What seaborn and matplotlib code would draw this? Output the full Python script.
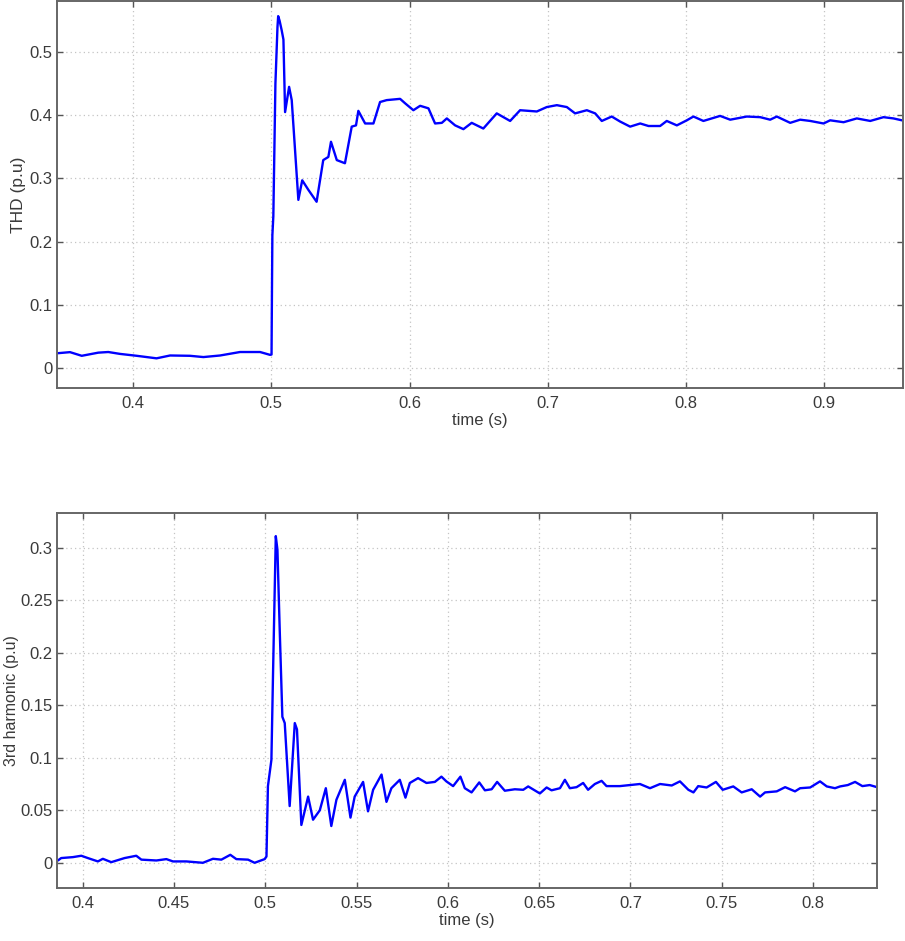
import matplotlib
matplotlib.use("Agg")
import matplotlib.pyplot as plt
import seaborn as sns
import pandas as pd

# ---------------- data ----------------
thd_time = [0.345, 0.3544, 0.3629, 0.3749, 0.3821, 0.3906, 0.4027, 0.417, 0.4268,
            0.4412, 0.4509, 0.463, 0.4774, 0.4919, 0.4991, 0.5002, 0.5005, 0.5008,
            0.5015, 0.503, 0.5045, 0.505, 0.506, 0.5075, 0.5088, 0.510, 0.5129,
            0.5148, 0.5196, 0.5224, 0.5268, 0.5328, 0.5376, 0.5413, 0.5432, 0.5474,
            0.5533, 0.5582, 0.5613, 0.563, 0.5679, 0.5739, 0.5787, 0.5835, 0.5932,
            0.5968, 0.6028, 0.6077, 0.6137, 0.6185, 0.6234, 0.627, 0.633, 0.639,
            0.645, 0.6534, 0.6631, 0.6728, 0.680, 0.6921, 0.6993, 0.7066, 0.7138,
            0.7198, 0.7283, 0.7343, 0.7391, 0.7463, 0.7524, 0.7596, 0.7669, 0.7729,
            0.7813, 0.7861, 0.7934, 0.8006, 0.8054, 0.8126, 0.8247, 0.832, 0.844,
            0.8537, 0.8609, 0.8657, 0.8754, 0.8826, 0.8899, 0.8995, 0.9043, 0.914,
            0.9236, 0.9333, 0.9429, 0.9501, 0.9562]
thd_value = [0.023, 0.0248, 0.019, 0.024, 0.025, 0.022, 0.019, 0.015, 0.0195,
             0.019, 0.017, 0.0195, 0.025, 0.025, 0.0205, 0.021, 0.12, 0.21,
             0.24, 0.45, 0.54, 0.557, 0.55, 0.535, 0.52, 0.405, 0.445,
             0.424, 0.266, 0.297, 0.282, 0.263, 0.329, 0.334, 0.358, 0.329,
             0.324, 0.382, 0.384, 0.407, 0.387, 0.387, 0.421, 0.424, 0.426,
             0.419, 0.408, 0.415, 0.411, 0.387, 0.388, 0.395, 0.384, 0.378,
             0.388, 0.379, 0.403, 0.391, 0.408, 0.406, 0.413, 0.416, 0.413,
             0.403, 0.408, 0.403, 0.391, 0.398, 0.390, 0.382, 0.387, 0.383,
             0.383, 0.391, 0.384, 0.392, 0.398, 0.391, 0.399, 0.393, 0.398,
             0.397, 0.393, 0.398, 0.388, 0.393, 0.391, 0.387, 0.392, 0.389,
             0.395, 0.391, 0.397, 0.395, 0.392]

h3_time = [0.3865, 0.3883, 0.3947, 0.3993, 0.4029, 0.4084, 0.4111, 0.4157, 0.423,
           0.4294, 0.4322, 0.4404, 0.4459, 0.4495, 0.4568, 0.4659, 0.4714, 0.476,
           0.4809, 0.4842, 0.4906, 0.4942, 0.4997, 0.5007, 0.5015, 0.5034, 0.5043,
           0.5058, 0.5067, 0.508, 0.5094, 0.5107, 0.5134, 0.5162, 0.5174, 0.5198,
           0.5235, 0.5262, 0.5299, 0.5332, 0.5362, 0.539, 0.5436, 0.5467, 0.549,
           0.5536, 0.5563, 0.5591, 0.5637, 0.5664, 0.5691, 0.5737, 0.5768, 0.5792,
           0.5837, 0.5883, 0.5929, 0.5965, 0.5992, 0.6029, 0.6069, 0.6093, 0.613,
           0.6172, 0.6203, 0.624, 0.627, 0.6312, 0.6367, 0.6413, 0.644, 0.6504,
           0.6541, 0.6568, 0.6614, 0.6641, 0.6668, 0.6705, 0.6741, 0.6768, 0.6805,
           0.6842, 0.6869, 0.6942, 0.6997, 0.7052, 0.7107, 0.7162, 0.7226, 0.7271,
           0.7317, 0.7345, 0.7371, 0.7417, 0.7468, 0.7505, 0.7563, 0.7609, 0.7664,
           0.771, 0.7737, 0.7801, 0.7847, 0.7901, 0.7929, 0.7984, 0.8038, 0.8075,
           0.812, 0.8148, 0.819, 0.823, 0.827, 0.831, 0.835]
h3_value = [0.0022, 0.0045, 0.0054, 0.0067, 0.0045, 0.0013, 0.0038, 0.0006, 0.0045,
            0.0067, 0.003, 0.0022, 0.0035, 0.0013, 0.0013, 0.0, 0.0038, 0.003,
            0.0076, 0.0035, 0.003, 0.0, 0.0035, 0.006, 0.073, 0.098, 0.181,
            0.311, 0.298, 0.219, 0.139, 0.133, 0.054, 0.133, 0.127, 0.036,
            0.063, 0.041, 0.050, 0.071, 0.035, 0.060, 0.079, 0.043, 0.063,
            0.077, 0.049, 0.0695, 0.084, 0.058, 0.071, 0.079, 0.062, 0.076,
            0.0806, 0.076, 0.077, 0.082, 0.0775, 0.073, 0.082, 0.071, 0.067,
            0.0765, 0.069, 0.070, 0.077, 0.0686, 0.070, 0.0695, 0.0727, 0.066,
            0.0717, 0.069, 0.071, 0.079, 0.071, 0.072, 0.076, 0.0695, 0.075,
            0.078, 0.073, 0.073, 0.074, 0.075, 0.071, 0.075, 0.0736, 0.0775,
            0.0695, 0.067, 0.073, 0.0717, 0.077, 0.0695, 0.0727, 0.067, 0.070,
            0.063, 0.067, 0.068, 0.072, 0.068, 0.071, 0.0717, 0.0775, 0.0727,
            0.071, 0.0727, 0.074, 0.077, 0.073, 0.074, 0.072]

thd_xticks = [0.4, 0.5, 0.6, 0.7, 0.8, 0.9]
thd_yticks = [0, 0.1, 0.2, 0.3, 0.4, 0.5]
thd_xticklabels = ["0.4", "0.5", "0.6", "0.7", "0.8", "0.9"]
thd_yticklabels = ["0", "0.1", "0.2", "0.3", "0.4", "0.5"]
h3_xticks = [0.4, 0.45, 0.5, 0.55, 0.6, 0.65, 0.7, 0.75, 0.8]
h3_yticks = [0, 0.05, 0.1, 0.15, 0.2, 0.25, 0.3]
h3_xticklabels = ["0.4", "0.45", "0.5", "0.55", "0.6", "0.65", "0.7", "0.75", "0.8"]
h3_yticklabels = ["0", "0.05", "0.1", "0.15", "0.2", "0.25", "0.3"]

# ---------------- style ----------------
sns.set_style("white")
plt.rcParams["font.family"] = ["Liberation Sans", "DejaVu Sans"]

W, H = 905, 941
fig = plt.figure(figsize=(W / 100, H / 100), dpi=100)

def box(l, t, r, b):
    return [l / W, 1 - b / H, (r - l) / W, (b - t) / H]

ax1 = fig.add_axes(box(57, 1, 903, 388))
ax2 = fig.add_axes(box(57, 513, 877, 888))

df1 = pd.DataFrame({"time": thd_time, "THD": thd_value})
df2 = pd.DataFrame({"time": h3_time, "H3": h3_value})

sns.lineplot(data=df1, x="time", y="THD", ax=ax1, color="#0000ff",
             linewidth=1.7, estimator=None, sort=False)
sns.lineplot(data=df2, x="time", y="H3", ax=ax2, color="#0000ff",
             linewidth=1.7, estimator=None, sort=False)

tick_color = "#3a3a3a"
spine_color = "#666666"

def style(ax, xlim, ylim, xt, xtl, yt, ytl, ylabel, ylabelsize, ylabelpad):
    ax.set_xlim(*xlim)
    ax.set_ylim(*ylim)
    ax.set_xticks(xt)
    ax.set_xticklabels(xtl)
    ax.set_yticks(yt)
    ax.set_yticklabels(ytl)
    ax.grid(True, linestyle=(0, (1, 2.5)), color="#c4c4c4", linewidth=0.9)
    ax.set_axisbelow(True)
    for s in ax.spines.values():
        s.set_visible(True)
        s.set_color(spine_color)
        s.set_linewidth(1.4)
    ax.tick_params(axis="both", direction="in", length=4, width=1,
                   color="#555555", labelcolor=tick_color, labelsize=12,
                   top=True, right=True, bottom=True, left=True)
    ax.tick_params(axis="x", pad=6)
    ax.tick_params(axis="y", pad=3)
    ax.set_xlabel("time (s)", fontsize=12, color=tick_color, labelpad=1)
    ax.set_ylabel(ylabel, fontsize=ylabelsize, color=tick_color,
                  labelpad=ylabelpad)

style(ax1, (0.345, 0.957), (-0.032, 0.581), thd_xticks, thd_xticklabels,
      thd_yticks, thd_yticklabels, "THD (p.u)", 12.5, 3)
style(ax2, (0.386, 0.835), (-0.024, 0.333), h3_xticks, h3_xticklabels,
      h3_yticks, h3_yticklabels, "3rd harmonic (p.u)", 11.5, 1)

fig.savefig("out.png", dpi=100)
